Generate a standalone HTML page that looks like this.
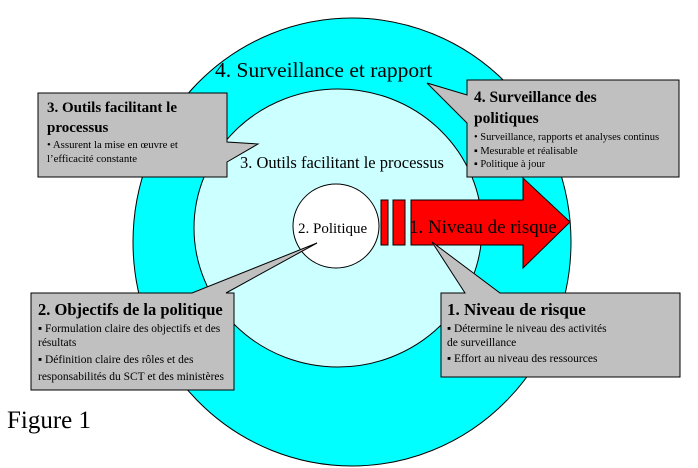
<!DOCTYPE html>
<html><head><style>body{margin:0;background:#fff}svg{display:block}</style></head><body>
<svg width="698" height="468" viewBox="0 0 698 468" xmlns="http://www.w3.org/2000/svg" font-family="Liberation Serif, serif">
<rect width="698" height="468" fill="#fff"/>
<ellipse cx="352" cy="242" rx="219" ry="224" fill="#00ffff" stroke="#000"/>
<ellipse cx="338" cy="228" rx="144" ry="139" fill="#ccffff" stroke="#000"/>
<ellipse cx="336" cy="226" rx="43" ry="42" fill="#fff" stroke="#000"/>
<rect x="381" y="200" width="7" height="45" fill="#f00" stroke="#000"/>
<rect x="393" y="200" width="12" height="45" fill="#f00" stroke="#000"/>
<polygon points="411,200 523,200 523,178 570,222 523,268 523,245 411,245" fill="#f00" stroke="#000"/>
<text x="215" y="77" font-size="21.5">4. Surveillance et rapport</text>
<text x="240" y="168" font-size="16.5">3. Outils facilitant le processus</text>
<text x="298" y="233" font-size="15">2. Politique</text>
<text x="409" y="233" font-size="19">1. Niveau de risque</text>
<text x="7" y="428" font-size="25">Figure 1</text>
<polygon points="38,93 227,93 227,142 258,144 227,162 227,177 38,177" fill="#c0c0c0" stroke="#000"/>
<text x="47" y="112" font-size="15" font-weight="bold">3. Outils facilitant le</text>
<text x="47" y="132" font-size="15" font-weight="bold">processus</text>
<text x="47" y="148" font-size="10.8">•  Assurent la mise en œuvre et</text>
<text x="47" y="162" font-size="10.8">l’efficacité constante</text>
<polygon points="467,80 679,80 679,177 467,177 467,123 427,83 467,95" fill="#c0c0c0" stroke="#000"/>
<text x="474" y="102" font-size="15.5" font-weight="bold">4. Surveillance des</text>
<text x="474" y="123" font-size="15.5" font-weight="bold">politiques</text>
<text x="474" y="140" font-size="10.5">•  Surveillance, rapports et analyses continus</text>
<text x="474" y="154" font-size="10.5">▪ Mesurable et réalisable</text>
<text x="474" y="167" font-size="10.5">▪ Politique à jour</text>
<polygon points="31,293 192,293 317,243 226,293 234,293 234,390 31,390" fill="#c0c0c0" stroke="#000"/>
<text x="38" y="315" font-size="16.5" font-weight="bold">2. Objectifs de la politique</text>
<text x="38" y="332" font-size="11.5">▪ Formulation claire des objectifs et des</text>
<text x="38" y="346" font-size="11.5">résultats</text>
<text x="38" y="363" font-size="11.5">▪ Définition claire des rôles et des</text>
<text x="38" y="380" font-size="11.5">responsabilités du SCT et des ministères</text>
<polygon points="441,293 465,293 432,242 500,293 680,293 680,377 441,377" fill="#c0c0c0" stroke="#000"/>
<text x="447" y="315" font-size="17" font-weight="bold">1. Niveau de risque</text>
<text x="447" y="332" font-size="11.5">▪ Détermine le niveau des activités</text>
<text x="447" y="346" font-size="11.5">de surveillance</text>
<text x="447" y="362" font-size="11.5">▪ Effort au niveau des ressources</text>
</svg>
</body></html>
